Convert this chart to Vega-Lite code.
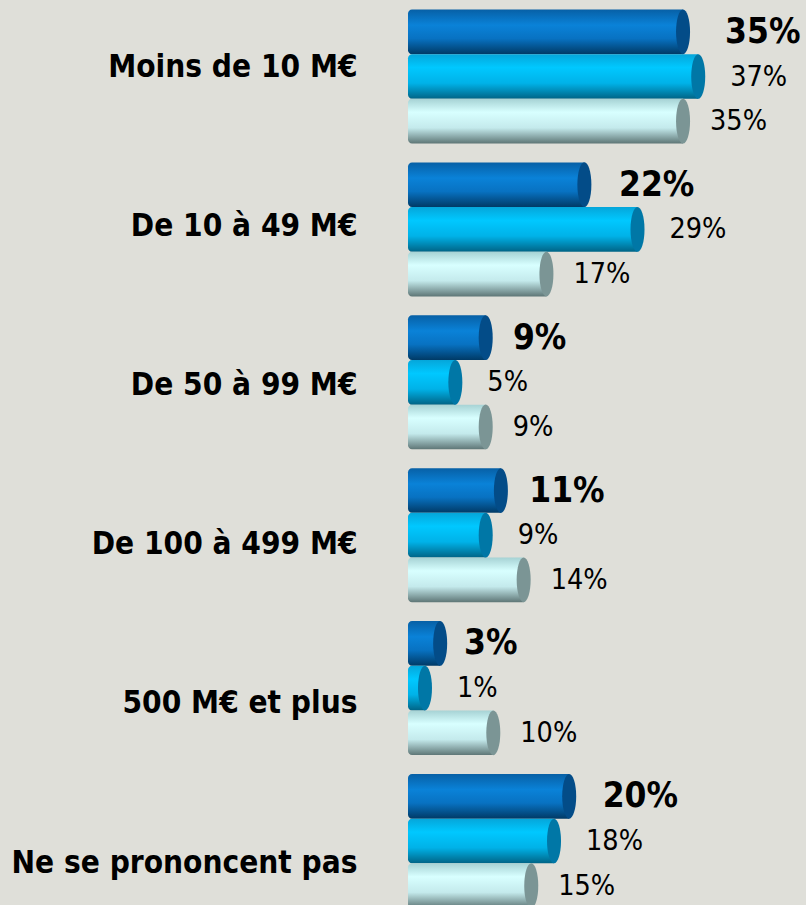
{
  "$schema": "https://vega.github.io/schema/vega-lite/v6.json",
  "width": 398,
  "height": 905,
  "autosize": "none",
  "padding": {"left": 408, "top": 0, "right": 0, "bottom": 0},
  "background": "#DFDFD9",
  "config": {"view": {"stroke": null}},
  "data": {
    "values": [
      {"cat": "Moins de 10 M€", "s": "A", "v": 0.35},
      {"cat": "Moins de 10 M€", "s": "B", "v": 0.37},
      {"cat": "Moins de 10 M€", "s": "C", "v": 0.35},
      {"cat": "De 10 à 49 M€", "s": "A", "v": 0.22},
      {"cat": "De 10 à 49 M€", "s": "B", "v": 0.29},
      {"cat": "De 10 à 49 M€", "s": "C", "v": 0.17},
      {"cat": "De 50 à 99 M€", "s": "A", "v": 0.09},
      {"cat": "De 50 à 99 M€", "s": "B", "v": 0.05},
      {"cat": "De 50 à 99 M€", "s": "C", "v": 0.09},
      {"cat": "De 100 à 499 M€", "s": "A", "v": 0.11},
      {"cat": "De 100 à 499 M€", "s": "B", "v": 0.09},
      {"cat": "De 100 à 499 M€", "s": "C", "v": 0.14},
      {"cat": "500 M€ et plus", "s": "A", "v": 0.03},
      {"cat": "500 M€ et plus", "s": "B", "v": 0.01},
      {"cat": "500 M€ et plus", "s": "C", "v": 0.10},
      {"cat": "Ne se prononcent pas", "s": "A", "v": 0.20},
      {"cat": "Ne se prononcent pas", "s": "B", "v": 0.18},
      {"cat": "Ne se prononcent pas", "s": "C", "v": 0.15}
    ]
  },
  "layer": [
    {
      "mark": {"type": "tick", "opacity": 0},
      "encoding": {
        "y": {
          "field": "cat", "type": "nominal",
          "sort": ["Moins de 10 M€", "De 10 à 49 M€", "De 50 à 99 M€", "De 100 à 499 M€", "500 M€ et plus", "Ne se prononcent pas"],
          "scale": {"type": "point", "domain": ["Moins de 10 M€", "De 10 à 49 M€", "De 50 à 99 M€", "De 100 à 499 M€", "500 M€ et plus", "Ne se prononcent pas"], "range": [67, 863], "padding": 0},
          "axis": {
            "orient": "left", "title": null, "domain": false, "ticks": false, "grid": false,
            "labelFont": "DejaVu Sans Condensed", "labelFontWeight": "bold", "labelFontSize": 31.3,
            "labelColor": "#000000", "labelPadding": 51, "labelLimit": 0
          }
        }
      }
    },
    {
      "mark": {"type": "bar", "cornerRadiusTopLeft": 4, "cornerRadiusBottomLeft": 4},
      "encoding": {
        "y": {"field": "cat", "type": "nominal", "scale": {"domain": ["Moins de 10 M€", "De 10 à 49 M€", "De 50 à 99 M€", "De 100 à 499 M€", "500 M€ et plus", "Ne se prononcent pas"], "range": [9.5, 908], "paddingInner": 0.1236, "paddingOuter": 0}, "axis": null},
        "yOffset": {"field": "s", "type": "nominal", "scale": {"domain": ["A", "B", "C"], "paddingInner": 0, "paddingOuter": 0}},
        "x": {"field": "v", "type": "quantitative", "scale": {"domain": [-0.012385, 0.512], "nice": false, "zero": false}, "axis": null},
        "x2": {"datum": -0.012385},
        "color": {
          "condition": [
            {"test": "datum.s === 'A'", "value": {"gradient": "linear", "x1": 0, "y1": 0, "x2": 0, "y2": 1, "stops": [{"offset": 0, "color": "#0760A6"}, {"offset": 0.35, "color": "#0A82D8"}, {"offset": 0.65, "color": "#0872C2"}, {"offset": 1, "color": "#003A66"}]}},
            {"test": "datum.s === 'B'", "value": {"gradient": "linear", "x1": 0, "y1": 0, "x2": 0, "y2": 1, "stops": [{"offset": 0, "color": "#05A6DA"}, {"offset": 0.3, "color": "#00C8FF"}, {"offset": 0.65, "color": "#00B2E8"}, {"offset": 1, "color": "#006486"}]}}
          ],
          "value": {"gradient": "linear", "x1": 0, "y1": 0, "x2": 0, "y2": 1, "stops": [{"offset": 0, "color": "#A6D2D4"}, {"offset": 0.3, "color": "#D8FFFF"}, {"offset": 0.65, "color": "#C4EAEC"}, {"offset": 1, "color": "#5E7676"}]}
        }
      }
    },
    {
      "mark": {"type": "point", "filled": true, "opacity": 1, "strokeWidth": 0, "size": 2000, "shape": "M0.313,0A0.313,1,0,1,1,-0.313,0A0.313,1,0,1,1,0.313,0Z"},
      "encoding": {
        "y": {"field": "cat", "type": "nominal", "scale": {"domain": ["Moins de 10 M€", "De 10 à 49 M€", "De 50 à 99 M€", "De 100 à 499 M€", "500 M€ et plus", "Ne se prononcent pas"], "range": [9.5, 908], "paddingInner": 0.1236, "paddingOuter": 0}, "axis": null},
        "yOffset": {"field": "s", "type": "nominal", "scale": {"domain": ["A", "B", "C"], "paddingInner": 0, "paddingOuter": 0}},
        "x": {"field": "v", "type": "quantitative", "scale": {"domain": [-0.012385, 0.512], "nice": false, "zero": false}, "axis": null},
        "color": {"field": "s", "type": "nominal", "scale": {"domain": ["A", "B", "C"], "range": ["#034C88", "#0077A6", "#7B9595"]}, "legend": null}
      }
    },
    {
      "transform": [{"filter": "datum.s === 'A'"}],
      "mark": {"type": "text", "align": "left", "baseline": "middle", "font": "DejaVu Sans Condensed", "fontWeight": "bold", "fontSize": 35, "color": "#000000"},
      "encoding": {
        "y": {"field": "cat", "type": "nominal", "scale": {"domain": ["Moins de 10 M€", "De 10 à 49 M€", "De 50 à 99 M€", "De 100 à 499 M€", "500 M€ et plus", "Ne se prononcent pas"], "range": [9.5, 908], "paddingInner": 0.1236, "paddingOuter": 0}, "axis": null},
        "yOffset": {"field": "s", "type": "nominal", "scale": {"domain": ["A", "B", "C"], "paddingInner": 0, "paddingOuter": 0}},
        "x": {"field": "v", "type": "quantitative", "scale": {"domain": [-0.0386, 0.44915], "nice": false, "zero": false}, "axis": null},
        "text": {"field": "v", "type": "quantitative", "format": ".0%"}
      }
    },
    {
      "transform": [{"filter": "datum.s === 'B'"}],
      "mark": {"type": "text", "align": "left", "baseline": "middle", "dx": 32, "font": "DejaVu Sans Condensed", "fontSize": 28.5, "color": "#000000"},
      "encoding": {
        "y": {"field": "cat", "type": "nominal", "scale": {"domain": ["Moins de 10 M€", "De 10 à 49 M€", "De 50 à 99 M€", "De 100 à 499 M€", "500 M€ et plus", "Ne se prononcent pas"], "range": [9.5, 908], "paddingInner": 0.1236, "paddingOuter": 0}, "axis": null},
        "yOffset": {"field": "s", "type": "nominal", "scale": {"domain": ["A", "B", "C"], "paddingInner": 0, "paddingOuter": 0}},
        "x": {"field": "v", "type": "quantitative", "scale": {"domain": [-0.012385, 0.512], "nice": false, "zero": false}, "axis": null},
        "text": {"field": "v", "type": "quantitative", "format": ".0%"}
      }
    },
    {
      "transform": [{"filter": "datum.s === 'C'"}],
      "mark": {"type": "text", "align": "left", "baseline": "middle", "dx": 27, "font": "DejaVu Sans Condensed", "fontSize": 28.5, "color": "#000000"},
      "encoding": {
        "y": {"field": "cat", "type": "nominal", "scale": {"domain": ["Moins de 10 M€", "De 10 à 49 M€", "De 50 à 99 M€", "De 100 à 499 M€", "500 M€ et plus", "Ne se prononcent pas"], "range": [9.5, 908], "paddingInner": 0.1236, "paddingOuter": 0}, "axis": null},
        "yOffset": {"field": "s", "type": "nominal", "scale": {"domain": ["A", "B", "C"], "paddingInner": 0, "paddingOuter": 0}},
        "x": {"field": "v", "type": "quantitative", "scale": {"domain": [-0.012385, 0.512], "nice": false, "zero": false}, "axis": null},
        "text": {"field": "v", "type": "quantitative", "format": ".0%"}
      }
    }
  ],
  "resolve": {"scale": {"y": "independent", "x": "independent"}, "axis": {"y": "independent"}}
}
